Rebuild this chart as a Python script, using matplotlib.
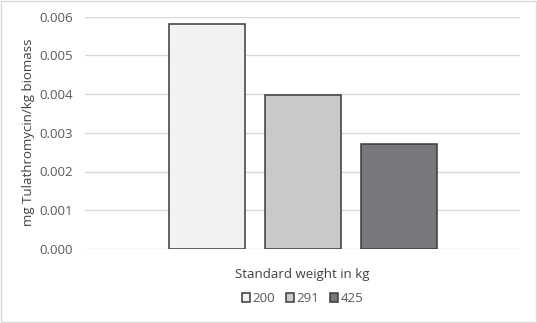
import matplotlib.pyplot as plt
from matplotlib.patches import Rectangle

# data
weights = ["200", "291", "425"]
values = [0.00580, 0.00397, 0.00272]
bar_colors = ["#F2F2F4", "#C8C9CB", "#77787B"]

TEXT_COLOR = "#595959"
GRID_COLOR = "#D9D9D9"
EDGE_COLOR = "#3A3A3A"
FS = 9.5

plt.rcParams.update({
    "font.family": ["Open Sans", "DejaVu Sans"],
    "font.size": FS,
})

fig = plt.figure(figsize=(5.37, 3.23), dpi=100)
ax = fig.add_axes([85 / 537, 1 - 249 / 323, 435 / 537, (249 - 16.5) / 323])

width = 76 / 96
for i, (w, v, c) in enumerate(zip(weights, values, bar_colors)):
    ax.bar(i, v, width=width, color=c, edgecolor=EDGE_COLOR, linewidth=1.1,
           label=w, zorder=3)

ax.set_xlim(1 - 435 / 96 / 2, 1 + 435 / 96 / 2)
ax.set_ylim(0, 0.006)
ax.set_yticks([0, 0.001, 0.002, 0.003, 0.004, 0.005, 0.006])
ax.set_yticklabels([f"{t:.3f}" for t in ax.get_yticks()])
ax.set_xticks([])
ax.yaxis.grid(True, color=GRID_COLOR, linewidth=1.0, zorder=0)
ax.set_axisbelow(True)
for s in ax.spines.values():
    s.set_visible(False)
ax.tick_params(axis="y", length=0, pad=9, colors=TEXT_COLOR, labelsize=FS)

ax.set_ylabel("mg Tulathromycin/kg biomass", color="#404040", fontsize=FS,
              labelpad=3)
ax.set_xlabel("Standard weight in kg", color="#404040", fontsize=FS,
              labelpad=14)

leg = ax.legend(loc="upper center", bbox_to_anchor=(0.5, -0.135), ncol=3,
                frameon=False, handlelength=0.6, handleheight=0.6,
                handletextpad=0.2, columnspacing=0.8, fontsize=FS)
for t in leg.get_texts():
    t.set_color(TEXT_COLOR)

# light outer border of the chart area
fig.patches.append(Rectangle((0.002, 0.003), 0.996, 0.994, transform=fig.transFigure,
                             fill=False, edgecolor="#D9D9D9", linewidth=1.0))

fig.savefig("out.png", dpi=100)
